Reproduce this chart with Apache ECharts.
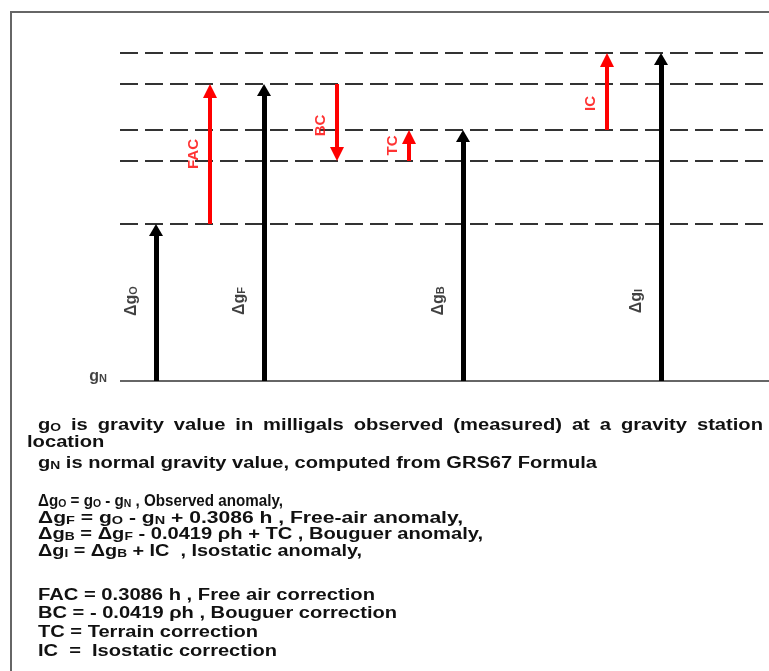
<!DOCTYPE html>
<html><head><meta charset="utf-8">
<script src="https://cdn.jsdelivr.net/npm/echarts@6/dist/echarts.min.js"></script>
<style>html,body{margin:0;padding:0;background:#fff}#c{width:769px;height:671px}</style>
</head><body><div id="c"></div>
<script>
// ---- data ----
const baseLevel = 0;                               // g_N
const dashedLevels = [157, 220, 251, 297, 328];    // reference gravity levels above g_N
const anomalyNames = ['O', 'F', 'B', 'I'];
const anomalyX = [156, 264, 463, 661];
const anomalyTop = [157, 297, 251, 328];
const corrNames = ['FAC', 'BC', 'TC', 'IC'];
const corrX = [210, 337, 409, 607];
const corrFrom = [157, 297, 220, 251];
const corrTo = [297, 220, 251, 328];

const introLine1 = ['g_O', 'is', 'gravity', 'value', 'in', 'milligals', 'observed', '(measured)', 'at', 'a', 'gravity', 'station'];
const introLine2 = 'location';
const introLine3 = 'g_N is normal gravity value, computed from GRS67 Formula';
const formulaLines = [
  'Δg_O = g_O - g_N , Observed anomaly,',
  'Δg_F = g_O - g_N + 0.3086 h , Free-air anomaly,',
  'Δg_B = Δg_F - 0.0419 ρh + TC , Bouguer anomaly,',
  'Δg_I = Δg_B + IC  , Isostatic anomaly,'
];
const correctionLines = [
  'FAC = 0.3086 h , Free air correction',
  'BC = - 0.0419 ρh , Bouguer correction',
  'TC = Terrain correction',
  'IC  =  Isostatic correction'
];

// ---- layout ----
const FONT = "'Liberation Sans', Arial, Helvetica, sans-serif";
const FS = 16, SFS = 11;
const TEXT_L = 38;
const intro3End = 597;
const formulaY = [502, 519, 535, 552], formulaEnd = [283, 463, 483, 362];
const corrY = [596, 614, 633, 652], corrEnd = [375, 397, 258, 277];
const WORD_SCALE = 1.26;

function toRich(s) { return s.replace(/_(\w)/g, '{s|$1}'); }
const ctx = document.createElement('canvas').getContext('2d');
function measure(str) {
  let w = 0;
  str.split(/(_\w)/).forEach(p => {
    if (!p) return;
    if (p[0] === '_') { ctx.font = 'bold ' + SFS + 'px ' + FONT; w += ctx.measureText(p.slice(1)).width; }
    else { ctx.font = 'bold ' + FS + 'px ' + FONT; w += ctx.measureText(p).width; }
  });
  return w;
}
const textStyleBase = {
  fontSize: FS, fontWeight: 'bold', fontFamily: FONT, fill: '#111', verticalAlign: 'middle',
  rich: { s: { fontSize: SFS, fontWeight: 'bold', fontFamily: FONT, fill: '#111', color: '#111', padding: [4, 0, 0, 0] } }
};
function textEl(str, x, y, sx) {
  return { type: 'text', x: x, y: y, scaleX: sx || 1, silent: true, style: Object.assign({}, textStyleBase, { text: toRich(str), x: 0, y: 0 }) };
}
function fitLine(str, y, endX) { return textEl(str, TEXT_L, y, (endX - TEXT_L) / measure(str)); }

const graphics = [];
graphics.push({ type: 'polyline', shape: { points: [[11, 671], [11, 12], [769, 12]] }, style: { stroke: '#666', lineWidth: 2, fill: null }, silent: true });

(function () {
  const R = 763;
  const widths = introLine1.map(w => measure(w) * WORD_SCALE);
  const total = widths.reduce((a, b) => a + b, 0);
  const gap = (R - TEXT_L - total) / (introLine1.length - 1);
  let x = TEXT_L;
  introLine1.forEach((w, i) => { graphics.push(textEl(w, x, 426, WORD_SCALE)); x += widths[i] + gap; });
})();
graphics.push(textEl(introLine2, 27, 443, WORD_SCALE));
graphics.push(fitLine(introLine3, 464, intro3End));
formulaLines.forEach((t, i) => graphics.push(fitLine(t, formulaY[i], formulaEnd[i])));
correctionLines.forEach((t, i) => graphics.push(fitLine(t, corrY[i], corrEnd[i])));

// ---- chart ----
const XMAX = 769, LINE_START = 120;
const BLACK_HEAD = 12, RED_HEAD = 14;   // arrow-head length in px (y axis is 1 unit per px)
const sgn = (a, b) => (b >= a ? 1 : -1);
const series = [];
series.push({
  type: 'lines', coordinateSystem: 'cartesian2d', silent: true, z: 1,
  lineStyle: { color: '#333', width: 2, type: [18, 7], opacity: 1 },
  data: dashedLevels.map(v => ({ coords: [[LINE_START, v], [XMAX, v]] }))
});
series.push({
  type: 'lines', coordinateSystem: 'cartesian2d', silent: true, z: 1,
  lineStyle: { color: '#666', width: 2, opacity: 1 },
  data: [{ coords: [[LINE_START, baseLevel], [XMAX, baseLevel]] }]
});
// black anomaly arrow shafts + heads
series.push({
  type: 'lines', coordinateSystem: 'cartesian2d', silent: true, z: 3,
  lineStyle: { color: '#000', width: 5, opacity: 1 },
  data: anomalyX.map((x, i) => ({ coords: [[x, baseLevel], [x, anomalyTop[i] - BLACK_HEAD + 2]] }))
});
series.push({
  type: 'scatter', silent: true, z: 4, symbol: 'triangle', symbolSize: [14, BLACK_HEAD], symbolOffset: [0, '50%'],
  itemStyle: { color: '#000', opacity: 1 },
  data: anomalyX.map((x, i) => [x, anomalyTop[i]])
});
// red correction arrows
series.push({
  type: 'lines', coordinateSystem: 'cartesian2d', silent: true, z: 3,
  lineStyle: { color: '#ff0000', width: 4, opacity: 1 },
  data: corrX.map((x, i) => ({ coords: [[x, corrFrom[i]], [x, corrTo[i] - sgn(corrFrom[i], corrTo[i]) * (RED_HEAD - 2)]] }))
});
series.push({
  type: 'scatter', silent: true, z: 4, symbol: 'triangle', symbolSize: [14, RED_HEAD],
  itemStyle: { color: '#ff0000', opacity: 1 },
  data: corrX.map((x, i) => {
    const up = corrTo[i] >= corrFrom[i];
    return { value: [x, corrTo[i]], symbolRotate: up ? 0 : 180, symbolOffset: [0, up ? '50%' : '-50%'] };
  })
});
// anomaly labels
series.push({
  type: 'scatter', symbolSize: 0, silent: true, z: 5,
  label: { show: true, position: 'inside', rotate: 90, color: '#111', fontSize: 16, fontWeight: 'bold', fontFamily: FONT,
    formatter: p => 'Δg{s|' + p.data[2] + '}', rich: { s: { fontSize: 11, fontWeight: 'bold', fontFamily: FONT, color: '#111', padding: [4, 0, 0, 0] } } },
  data: anomalyX.map((x, i) => [x - 24, 80, anomalyNames[i]])
});
// correction labels
series.push({
  type: 'scatter', symbolSize: 0, silent: true, z: 5,
  label: { show: true, position: 'inside', rotate: 90, color: '#ff0000', fontSize: 15, fontWeight: 'bold', fontFamily: FONT,
    formatter: p => p.data[2] },
  data: corrX.map((x, i) => [x - 16, (corrFrom[i] + corrTo[i]) / 2 + (i === 3 ? -12 : i === 1 ? -3 : 0), corrNames[i]])
});
// g_N label
series.push({
  type: 'scatter', symbolSize: 0, silent: true, z: 5,
  label: { show: true, position: 'inside', color: '#111', fontSize: 16, fontWeight: 'bold', fontFamily: FONT,
    formatter: 'g{s|N}', rich: { s: { fontSize: 11, fontWeight: 'bold', fontFamily: FONT, color: '#111', padding: [4, 0, 0, 0] } } },
  data: [[98, baseLevel + 4]]
});

const chart = echarts.init(document.getElementById('c'), null, { renderer: 'canvas' });
chart.setOption({
  animation: false,
  backgroundColor: '#fff',
  grid: { left: 0, top: 51, width: 769, height: 330 },
  xAxis: { type: 'value', min: 0, max: XMAX, show: false },
  yAxis: { type: 'value', min: 0, max: 330, show: false },
  series: series,
  graphic: graphics
});
</script></body></html>
